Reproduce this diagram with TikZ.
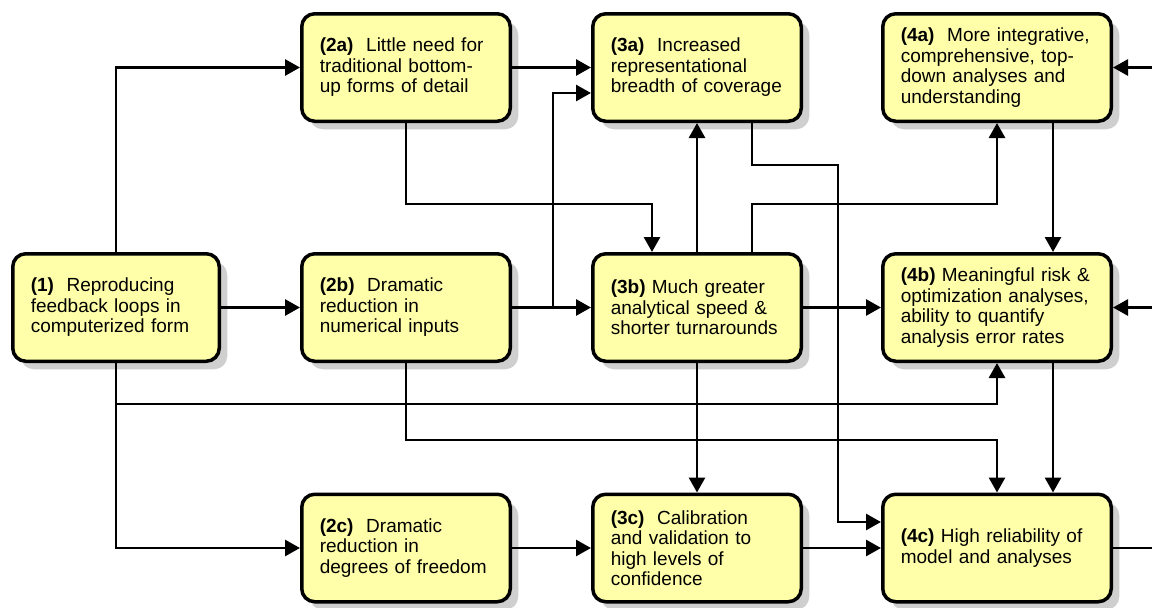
\documentclass[tikz,border=0pt]{standalone}
\usepackage{fontspec}
\setmainfont{Liberation Sans}
\usetikzlibrary{arrows.meta,shadows}
\definecolor{boxfill}{RGB}{255,255,170}
\begin{document}
\begin{tikzpicture}[x=1pt,y=-1pt,
  box/.style={draw=black, line width=3.5pt, fill=boxfill, rounded corners=13pt,
    minimum height=107.5pt, inner xsep=18pt, inner ysep=0pt, align=left,
    font=\fontsize{19}{20.5}\selectfont,
    drop shadow={shadow xshift=8pt, shadow yshift=-8pt, fill=gray!38, opacity=1}},
  colA/.style={box, text width=170.5pt},
  colB/.style={box, text width=172.5pt},
  colD/.style={box, text width=192.5pt},
  conn/.style={line width=2.8pt, draw=black},
  arr/.style={conn, -{Triangle[length=15pt,width=16pt]}}]
\useasboundingbox (0,0) rectangle (1152,608);

\node[colA] (n1) at (116,307.5) {\textbf{(1)}\ \ Reproducing\\feedback loops in\\computerized form};
\node[colB] (n2a) at (406,67.5) {\textbf{(2a)}\ \ Little need for\\traditional bottom-\\up forms of detail};
\node[colB] (n2b) at (406,307.5) {\textbf{(2b)}\ \ Dramatic\\reduction in\\numerical inputs};
\node[colB] (n2c) at (406,548) {\textbf{(2c)}\ \ Dramatic\\reduction in\\degrees of freedom};
\node[colB] (n3a) at (697,67.5) {\textbf{(3a)}\ \ Increased\\representational\\breadth of coverage};
\node[colB] (n3b) at (697,307.5) {\textbf{(3b)} Much greater\\analytical speed \&\\shorter turnarounds};
\node[colB] (n3c) at (697,548) {\textbf{(3c)}\ \ Calibration\\and validation to\\high levels of\\confidence};
\node[colD] (n4a) at (997,67.5) {\textbf{(4a)}\ \ More integrative,\\comprehensive, top-\\down analyses and\\understanding};
\node[colD] (n4b) at (997,307.5) {\textbf{(4b)} Meaningful risk \&\\optimization analyses,\\ability to quantify\\analysis error rates};
\node[colD] (n4c) at (997,548) {\textbf{(4c)} High reliability of\\model and analyses};

\coordinate (r4a) at (1152,67.5);
\coordinate (r4b) at (1152,307.5);
\coordinate (r4c) at (1152,548);

\draw[arr] (n1.north) |- (n2a.west);
\draw[arr] (n1) -- (n2b);
\draw[arr] (n1.south) |- (n2c.west);
\draw[arr] (n1.south |- 0,404) -| (n4b.south);
\draw[arr] (n2a) -- (n3a);
\draw[arr] (n2a.south) |- (652,204) -- (n3b.north -| 652,0);
\draw[arr] (n2b) -- (n3b);
\draw[arr] (n2b.east -| 553,0) |- (n3a.west |- 0,93);
\draw[arr] (n3b) -- (n3a);
\draw[arr] (n3b.north -| 752,0) |- (n4a.south |- 0,204) -- (n4a.south);
\draw[arr] (n3a.south -| 752,0) |- (838,165) |- (n4c.west |- 0,522);
\draw[arr] (n2b.south) |- (n4c.north |- 0,440) -- (n4c.north);
\draw[arr] (n3b) -- (n4b);
\draw[arr] (n3b) -- (n3c);
\draw[arr] (n2c) -- (n3c);
\draw[arr] (n3c) -- (n4c);
\draw[arr] (n4a.south -| 1053,0) -- (n4b.north -| 1053,0);
\draw[arr] (n4b.south -| 1053,0) -- (n4c.north -| 1053,0);
\draw[arr] (r4a) -- (n4a.east);
\draw[arr] (r4b) -- (n4b.east);
\draw[conn] (n4c.east) -- (r4c);
\end{tikzpicture}
\end{document}
